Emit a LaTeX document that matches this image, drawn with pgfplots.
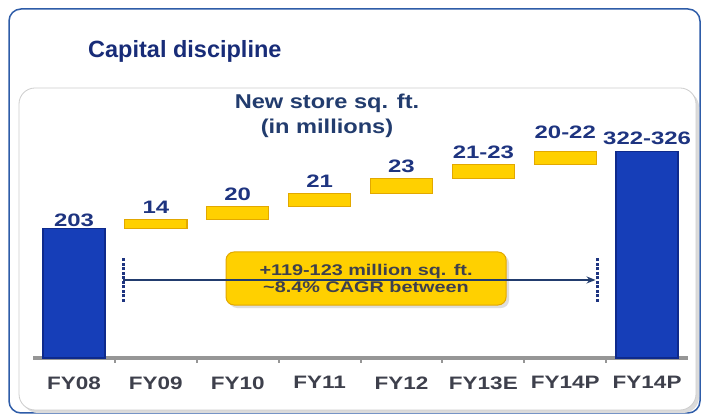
\documentclass[border=0pt]{standalone}
\usepackage{fontspec}
\setmainfont{Liberation Sans}
\usepackage{graphicx}
\usepackage{pgfplots}
\pgfplotsset{compat=1.18}
\usetikzlibrary{arrows.meta, shadows}

\definecolor{frameblue}{RGB}{46, 92, 168}
\definecolor{titlenavy}{RGB}{24, 44, 120}
\definecolor{headnavy}{RGB}{34, 60, 110}
\definecolor{labnavy}{RGB}{30, 52, 128}
\definecolor{catgray}{RGB}{62, 64, 76}
\definecolor{barblue}{RGB}{22, 62, 184}
\definecolor{barbluedk}{RGB}{14, 42, 140}
\definecolor{baryellow}{RGB}{255, 208, 0}
\definecolor{baryellowdk}{RGB}{226, 168, 0}
\definecolor{axisgray}{RGB}{150, 150, 150}
\definecolor{panelgray}{RGB}{205, 205, 205}

\DeclareRobustCommand{\sx}[2]{\scalebox{#1}[1]{#2}}

% waterfall: invisible base, blue totals, yellow increments (millions sq. ft.)
\pgfplotstableread{
x base total inc
0 0   203 0
1 203 0   14
2 217 0   20
3 237 0   21
4 258 0   23
5 281 0   22
6 303 0   21
7 0   324 0
}\sqft

\begin{document}
\begin{tikzpicture}
\path[use as bounding box] (0pt,0pt) rectangle (705pt,419pt);
\fill[white] (0pt,0pt) rectangle (705pt,419pt);
\draw[frameblue, line width=1.5pt, rounded corners=12pt] (9pt,6pt) rectangle (700pt,410pt);

\node[anchor=base west, font=\bfseries\fontsize{23.5}{23.5}\selectfont, text=titlenavy, inner sep=0]
  at (88pt,361pt) {Capital discipline};

% inner panel
\fill[black!14, rounded corners=16pt] (22pt,6pt) rectangle (699pt,328pt);
\draw[panelgray, line width=0.8pt, fill=white, rounded corners=16pt] (19pt,9pt) rectangle (696pt,331pt);

\node[font=\bfseries\fontsize{20}{20}\selectfont, text=headnavy]
  at (327pt,316pt) {\sx{1.18}{New store sq. ft.}};
\node[font=\bfseries\fontsize{20}{20}\selectfont, text=headnavy]
  at (327pt,291pt) {\sx{1.18}{(in millions)}};

\begin{axis}[
    at={(74pt,61pt)}, anchor=origin,
    scale only axis,
    width=655pt, height=223.3pt,
    xmin=-0.5, xmax=7.5,
    ymin=0, ymax=350,
    ybar stacked,
    bar width=0.76,
    axis y line=none,
    axis x line*=bottom,
    x axis line style={draw=axisgray, line width=3.5pt, -},
    xtick={0,...,7},
    xticklabels={FY08,FY09,FY10,FY11,FY12,FY13E,FY14P,FY14P},
    major tick length=0pt,
    minor xtick={0.5,1.5,2.5,3.5,4.5,5.5,6.5},
    minor tick length=5pt,
    tick align=outside,
    minor tick style={draw=axisgray, line width=2pt},
    xticklabel style={font=\bfseries\fontsize{18}{18}\selectfont, text=catgray, yshift=-15pt,
        xscale=1.25, transform shape},
    clip=false,
]
\addplot[draw=none, fill=none] table[x=x, y=base] {\sqft};
\addplot[fill=barblue, draw=barbluedk, line width=1.5pt] table[x=x, y=total] {\sqft};
\addplot[fill=baryellow, draw=baryellowdk, line width=1.2pt] table[x=x, y=inc] {\sqft};

% value labels
\node[font=\bfseries\fontsize{18}{18}\selectfont, text=labnavy, anchor=south, inner sep=0pt, yshift=2pt] at (axis cs:0,203) {\sx{1.33}{203}};
\node[font=\bfseries\fontsize{18}{18}\selectfont, text=labnavy, anchor=south, inner sep=0pt, yshift=6pt] at (axis cs:1,217) {\sx{1.33}{14}};
\node[font=\bfseries\fontsize{18}{18}\selectfont, text=labnavy, anchor=south, inner sep=0pt, yshift=6pt] at (axis cs:2,237) {\sx{1.33}{20}};
\node[font=\bfseries\fontsize{18}{18}\selectfont, text=labnavy, anchor=south, inner sep=0pt, yshift=6pt] at (axis cs:3,258) {\sx{1.33}{21}};
\node[font=\bfseries\fontsize{18}{18}\selectfont, text=labnavy, anchor=south, inner sep=0pt, yshift=6pt] at (axis cs:4,281) {\sx{1.33}{23}};
\node[font=\bfseries\fontsize{18}{18}\selectfont, text=labnavy, anchor=south, inner sep=0pt, yshift=6pt] at (axis cs:5,303) {\sx{1.33}{21-23}};
\node[font=\bfseries\fontsize{18}{18}\selectfont, text=labnavy, anchor=south, inner sep=0pt, yshift=12pt] at (axis cs:6,324) {\sx{1.33}{20-22}};
\node[font=\bfseries\fontsize{18}{18}\selectfont, text=labnavy, anchor=south, inner sep=0pt, yshift=6pt] at (axis cs:7,324) {\sx{1.33}{322-326}};

% span annotation
\draw[labnavy, line width=3pt, dash pattern=on 3pt off 1.5pt] (axis cs:0.6,87.8) -- (axis cs:0.6,156.7);
\draw[labnavy, line width=3pt, dash pattern=on 3pt off 1.5pt] (axis cs:6.39,87.8) -- (axis cs:6.39,156.7);
\draw[headnavy, line width=1.6pt, -{Stealth[length=9pt, width=7pt]}] (axis cs:0.6,122.3) -- (axis cs:6.37,122.3);
\node[draw=baryellowdk, line width=1pt, fill=baryellow,
      drop shadow={shadow xshift=3pt, shadow yshift=-3pt, fill=black!25},
      rounded corners=8pt, minimum width=280pt, minimum height=53pt, align=center,
      font=\bfseries\fontsize{15.5}{17.5}\selectfont, text=catgray]
  at (axis cs:3.567,124.6) {\sx{1.28}{+119-123 million sq. ft.}\\ \sx{1.28}{\textasciitilde 8.4\% CAGR between}};
\end{axis}
\end{tikzpicture}
\end{document}
